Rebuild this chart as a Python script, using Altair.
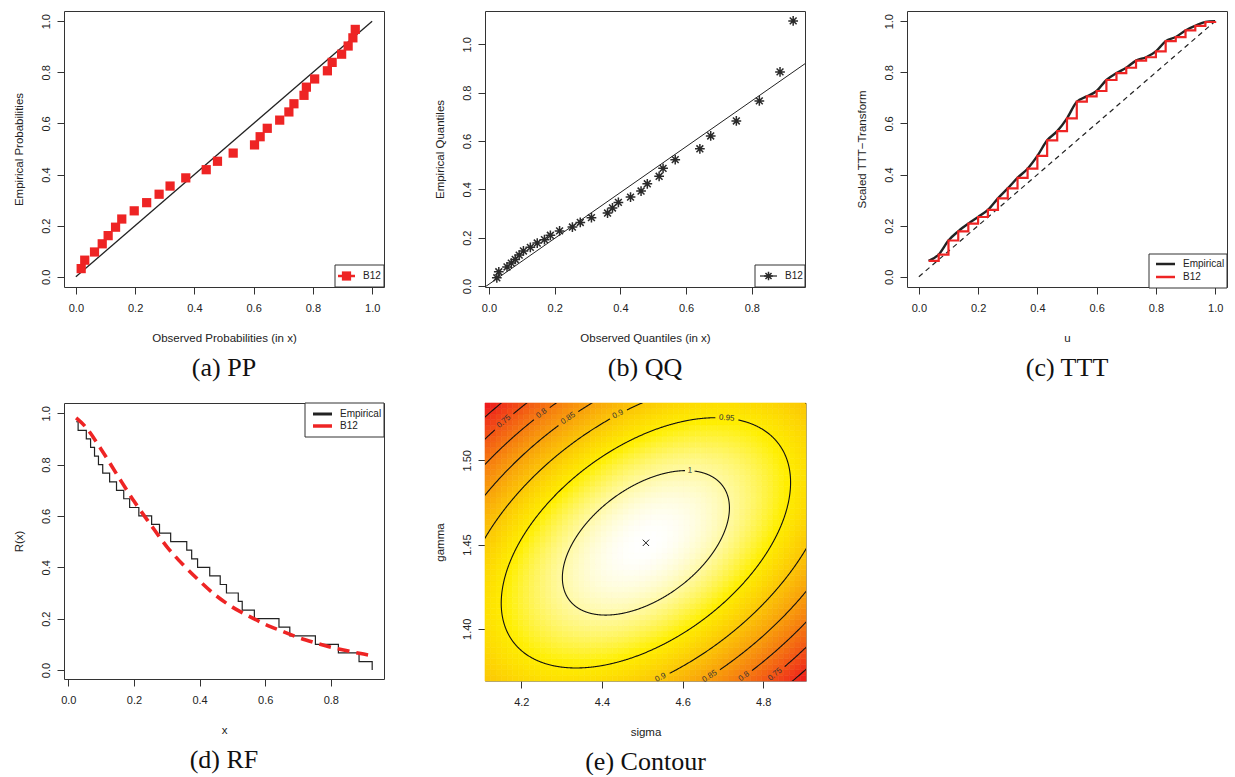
import math

import altair as alt
import numpy as np
import pandas as pd

INK = "#222222"
FRAME = "#333333"
RED = "#ee2424"
SANS = "Liberation Sans"
SERIF = "Liberation Serif"

# ---------------- (a) PP plot ----------------
pp_observed = [0.018, 0.030, 0.063, 0.089, 0.109, 0.134, 0.155, 0.197, 0.239, 0.281,
               0.318, 0.371, 0.440, 0.478, 0.531, 0.603, 0.622, 0.646, 0.688, 0.719,
               0.736, 0.770, 0.778, 0.806, 0.849, 0.865, 0.897, 0.919, 0.935, 0.943]
pp_empirical = [0.032, 0.065, 0.097, 0.129, 0.161, 0.194, 0.226, 0.258, 0.290, 0.323,
                0.355, 0.387, 0.419, 0.452, 0.484, 0.516, 0.548, 0.581, 0.613, 0.645,
                0.677, 0.710, 0.742, 0.774, 0.806, 0.839, 0.871, 0.903, 0.935, 0.968]
pp_ref = [0.0, 1.0]

# ---------------- (b) QQ plot ----------------
qq_observed = [0.024, 0.030, 0.055, 0.068, 0.080, 0.092, 0.105, 0.126, 0.147, 0.169,
               0.187, 0.215, 0.254, 0.278, 0.312, 0.361, 0.376, 0.394, 0.431, 0.463,
               0.482, 0.518, 0.530, 0.567, 0.642, 0.675, 0.753, 0.823, 0.886, 0.926]
qq_empirical = [0.034, 0.059, 0.079, 0.095, 0.110, 0.128, 0.145, 0.160, 0.178, 0.192,
                0.210, 0.228, 0.244, 0.263, 0.283, 0.302, 0.323, 0.346, 0.368, 0.393,
                0.423, 0.454, 0.487, 0.523, 0.568, 0.621, 0.683, 0.766, 0.886, 1.097]
qq_line_x = [-0.05, 1.0]
qq_line_y = [-0.040, 0.956]

# ---------------- (c) scaled TTT transform ----------------
ttt_u = [0.033, 0.067, 0.100, 0.133, 0.167, 0.200, 0.233, 0.267, 0.300, 0.333,
         0.367, 0.400, 0.433, 0.467, 0.500, 0.533, 0.567, 0.600, 0.633, 0.667,
         0.700, 0.733, 0.767, 0.800, 0.833, 0.867, 0.900, 0.933, 0.967, 1.000]
ttt_value = [0.062, 0.087, 0.142, 0.178, 0.208, 0.234, 0.262, 0.307, 0.346, 0.387,
             0.423, 0.473, 0.534, 0.570, 0.620, 0.685, 0.706, 0.727, 0.770, 0.797,
             0.818, 0.846, 0.859, 0.882, 0.922, 0.938, 0.964, 0.982, 0.997, 1.000]
ttt_diag = [0.0, 1.0]

# ---------------- (d) reliability function ----------------
rf_x = qq_observed
rf_empirical = [0.967, 0.933, 0.900, 0.867, 0.833, 0.800, 0.767, 0.733, 0.700, 0.667,
                0.633, 0.600, 0.567, 0.533, 0.500, 0.467, 0.433, 0.400, 0.367, 0.333,
                0.300, 0.267, 0.233, 0.200, 0.167, 0.133, 0.100, 0.067, 0.033, 0.000]
rf_fit_x = [0.024, 0.05, 0.10, 0.15, 0.20, 0.25, 0.30, 0.35, 0.40, 0.45,
            0.50, 0.55, 0.60, 0.65, 0.70, 0.75, 0.80, 0.85, 0.90, 0.926]
rf_fit_y = [0.982, 0.951, 0.860, 0.758, 0.658, 0.568, 0.481, 0.410, 0.347, 0.290,
            0.245, 0.210, 0.178, 0.152, 0.127, 0.107, 0.089, 0.075, 0.062, 0.056]

# ---------------- (e) relative likelihood surface ----------------
sigma_hat, gamma_hat = 4.509, 1.451
q_ss, q_sg, q_gg = 30.37, -141.5, 708.7     # quadratic form of the log-likelihood
peak, drop = 1.025, 0.025
contour_levels = [0.70, 0.75, 0.80, 0.85, 0.90, 0.95, 1.00]
label_spots = [(1.00, 4.618, 1.4945), (0.95, 4.711, 1.529),
               (0.90, 4.437, 1.528), (0.85, 4.313, 1.5257), (0.80, 4.251, 1.528), (0.75, 4.145, 1.5257),
               (0.90, 4.5425, 1.3725), (0.85, 4.664, 1.373), (0.80, 4.746, 1.374), (0.75, 4.825, 1.3735)]
S0, S1 = 4.11, 4.906
G0, G1 = 1.369, 1.534
n_sigma, n_gamma = 58, 50
heat_yellow_at = 0.955   # surface value drawn in pure yellow

PW, PH = 320, 276       # panel plot areas
CW, CH = 321, 278

ticks01 = [0.0, 0.2, 0.4, 0.6, 0.8, 1.0]
ticks08 = [0.0, 0.2, 0.4, 0.6, 0.8]


def lin(dom):
    return alt.Scale(domain=dom, nice=False, zero=False)


def x_axis(title, values, fmt=".1f"):
    return alt.Axis(title=title, values=values, format=fmt, grid=False, domain=False,
                    tickSize=7, tickColor=FRAME, tickWidth=1, labelFlush=False, labelOverlap=False,
                    labelFont=SANS, labelFontSize=11, labelColor=INK, labelPadding=8,
                    titleFont=SANS, titleFontSize=11.5, titleFontWeight="normal",
                    titleColor=INK, titlePadding=19)


def y_axis(title, values, fmt=".1f"):
    return alt.Axis(title=title, values=values, format=fmt, grid=False, domain=False,
                    tickSize=7, tickColor=FRAME, tickWidth=1, labelFlush=False, labelOverlap=False,
                    labelAngle=270, labelAlign="center", labelBaseline="alphabetic",
                    labelFont=SANS, labelFontSize=11, labelColor=INK, labelPadding=8,
                    titleFont=SANS, titleFontSize=11.5, titleFontWeight="normal",
                    titleColor=INK, titlePadding=16)


def caption(text):
    return alt.TitleParams(text=text, orient="bottom", anchor="middle", font=SERIF,
                           fontSize=26, fontWeight="normal", color="#111111", offset=11)


one = pd.DataFrame({"k": [0]})


def box(x0, y0, x1, y1):
    return alt.Chart(one).mark_rect(fill="white", stroke=FRAME, strokeWidth=1).encode(
        x=alt.value(x0), x2=alt.value(x1), y=alt.value(y0), y2=alt.value(y1))


def key_line(x0, x1, y, color, width):
    return alt.Chart(one).mark_rule(color=color, strokeWidth=width).encode(
        x=alt.value(x0), x2=alt.value(x1), y=alt.value(y))


def key_text(x, y, text):
    return alt.Chart(one).mark_text(text=text, align="left", baseline="middle", font=SANS,
                                    fontSize=10, color=INK).encode(x=alt.value(x), y=alt.value(y))


ASTERISK = "M-1,0L1,0M0,-1L0,1M-0.7,-0.7L0.7,0.7M-0.7,0.7L0.7,-0.7"
CROSS = "M-1,-1L1,1M-1,1L1,-1"

# ---- (a) PP ----
pp_df = pd.DataFrame({"obs": pp_observed, "emp": pp_empirical})
pp_ref_df = pd.DataFrame({"obs": pp_ref, "emp": pp_ref})
pp = alt.layer(
    alt.Chart(pp_ref_df).mark_line(color=INK, strokeWidth=1.3).encode(
        x=alt.X("obs:Q", scale=lin([-0.04, 1.04]), axis=x_axis("Observed Probabilities (in x)", ticks01)),
        y=alt.Y("emp:Q", scale=lin([-0.04, 1.04]), axis=y_axis("Empirical Probabilities", ticks01))),
    alt.Chart(pp_df).mark_square(size=85, color=RED, opacity=1).encode(x="obs:Q", y="emp:Q"),
    box(271, 254, 320, 276),
    key_line(274, 291, 265, RED, 2.5),
    alt.Chart(one).mark_square(size=85, color=RED, opacity=1).encode(x=alt.value(282.5), y=alt.value(265)),
    key_text(299, 265, "B12"),
).properties(width=PW, height=PH, title=caption("(a) PP"))

# ---- (b) QQ ----
qq_df = pd.DataFrame({"obs": qq_observed, "emp": qq_empirical})
qq_line_df = pd.DataFrame({"obs": qq_line_x, "emp": qq_line_y})
qq = alt.layer(
    alt.Chart(qq_line_df).mark_line(color=INK, strokeWidth=1, clip=True).encode(
        x=alt.X("obs:Q", scale=lin([-0.012, 0.962]), axis=x_axis("Observed Quantiles (in x)", ticks08)),
        y=alt.Y("emp:Q", scale=lin([-0.004, 1.138]), axis=y_axis("Empirical Quantiles", ticks01))),
    alt.Chart(qq_df).mark_point(shape=ASTERISK, size=95, filled=False, stroke="#2a2a2a",
                                strokeWidth=1.5, opacity=1).encode(x="obs:Q", y="emp:Q"),
    box(270, 254, 320, 276),
    key_line(275, 292, 265, INK, 1.2),
    alt.Chart(one).mark_point(shape=ASTERISK, size=75, filled=False, stroke="#2a2a2a",
                              strokeWidth=1.5, opacity=1).encode(x=alt.value(283.5), y=alt.value(265)),
    key_text(300, 265, "B12"),
).properties(width=PW, height=PH, title=caption("(b) QQ"))

# ---- (c) TTT ----
ttt_df = pd.DataFrame({"u": ttt_u, "t": ttt_value})
diag_df = pd.DataFrame({"u": ttt_diag, "t": ttt_diag})
ttt = alt.layer(
    alt.Chart(diag_df).mark_line(color=INK, strokeWidth=1.2, strokeDash=[5, 4]).encode(
        x=alt.X("u:Q", scale=lin([-0.04, 1.04]), axis=x_axis("u", ticks01)),
        y=alt.Y("t:Q", scale=lin([-0.04, 1.04]), axis=y_axis("Scaled TTT−Transform", ticks01))),
    alt.Chart(ttt_df).mark_line(color=INK, strokeWidth=2.4, interpolate="monotone").encode(x="u:Q", y="t:Q"),
    alt.Chart(ttt_df).mark_line(color=RED, strokeWidth=2.2, interpolate="step-after").encode(x="u:Q", y="t:Q"),
    box(242, 243, 320, 277),
    key_line(249, 268, 253, INK, 2.5),
    key_line(249, 268, 266, RED, 2.5),
    key_text(276, 253, "Empirical"),
    key_text(276, 266, "B12"),
).properties(width=PW, height=PH, title=caption("(c) TTT"))

# ---- (d) RF ----
rf_df = pd.DataFrame({"x": rf_x, "r": rf_empirical})
rf_fit_df = pd.DataFrame({"x": rf_fit_x, "r": rf_fit_y})
rf = alt.layer(
    alt.Chart(rf_df).mark_line(color=INK, strokeWidth=1.2, interpolate="step-after").encode(
        x=alt.X("x:Q", scale=lin([-0.013, 0.962]), axis=x_axis("x", ticks08)),
        y=alt.Y("r:Q", scale=lin([-0.035, 1.04]), axis=y_axis("R(x)", ticks01))),
    alt.Chart(rf_fit_df).mark_line(color=RED, strokeWidth=3.6, strokeDash=[12, 7],
                                   interpolate="monotone").encode(x="x:Q", y="r:Q"),
    box(241, 0, 320, 34),
    key_line(249, 268, 11, INK, 3),
    key_line(249, 268, 23, RED, 3.5),
    key_text(276, 11, "Empirical"),
    key_text(276, 23, "B12"),
).properties(width=PW, height=PH, title=caption("(d) RF"))


# ---- (e) contour of the relative likelihood ----
def surface(s, g):
    ds = s - sigma_hat
    dg = g - gamma_hat
    return peak - drop * (q_ss * ds ** 2 + q_sg * ds * dg + q_gg * dg ** 2)


s_edges = np.linspace(S0, S1, n_sigma + 1)
g_edges = np.linspace(G0, G1, n_gamma + 1)
cells = []
for i in range(n_sigma):
    for j in range(n_gamma):
        sc = 0.5 * (s_edges[i] + s_edges[i + 1])
        gc = 0.5 * (g_edges[j] + g_edges[j + 1])
        cells.append({"s0": s_edges[i], "s1": s_edges[i + 1], "g0": g_edges[j],
                      "g1": g_edges[j + 1], "f": surface(sc, gc)})
heat_df = pd.DataFrame(cells)
fmin, fmax = heat_df["f"].min(), heat_df["f"].max()
heat_scale = alt.Scale(domain=[fmin, heat_yellow_at, fmax],
                       range=["#ee1c1c", "#ffef00", "#ffffff"], interpolate="rgb")


def to_px(s, g):
    return (s - S0) / (S1 - S0) * CW, (G1 - g) / (G1 - G0) * CH


def level_text(v):
    return f"{v:.2f}".rstrip("0").rstrip(".")


M = np.array([[q_ss, q_sg / 2], [q_sg / 2, q_gg]])
lam, vec = np.linalg.eigh(M)
npts = 1440
t = np.linspace(0, 2 * np.pi, npts + 1)[:-1]
unit = vec @ np.vstack([np.cos(t) / np.sqrt(lam[0]), np.sin(t) / np.sqrt(lam[1])])

line_rows, label_rows = [], []
for lev in contour_levels:
    r = math.sqrt((peak - lev) / drop)
    s = sigma_hat + r * unit[0]
    g = gamma_hat + r * unit[1]
    px, py = to_px(s, g)
    keep = np.ones(npts, bool)
    for lv, ls, lg in label_spots:
        if abs(lv - lev) > 1e-9:
            continue
        lx, ly = to_px(ls, lg)
        i = int(np.argmin((px - lx) ** 2 + (py - ly) ** 2))
        a, b = (i - 4) % npts, (i + 4) % npts
        ang = math.degrees(math.atan2(py[b] - py[a], px[b] - px[a]))
        if ang > 90:
            ang -= 180
        if ang <= -90:
            ang += 180
        txt = level_text(lev)
        label_rows.append({"s": s[i], "g": g[i], "text": txt, "angle": ang % 360})
        gap = 2.2 * len(txt) + 2.5
        keep &= (px - px[i]) ** 2 + (py - py[i]) ** 2 > gap ** 2
    start = int(np.argmin(keep)) if not keep.all() else 0
    seg, prev = 0, False
    for k in np.roll(np.arange(npts), -start):
        if keep[k]:
            if not prev:
                seg += 1
            line_rows.append({"s": s[k], "g": g[k], "seg": f"{lev:.2f}-{seg}", "k": len(line_rows)})
        prev = bool(keep[k])
contour_df = pd.DataFrame(line_rows)
label_df = pd.DataFrame(label_rows)
mle_df = pd.DataFrame({"s": [sigma_hat], "g": [gamma_hat]})

sx = alt.X("s0:Q", scale=lin([S0, S1]), axis=x_axis("sigma", [4.2, 4.4, 4.6, 4.8]))
gy = alt.Y("g0:Q", scale=lin([G0, G1]), axis=y_axis("gamma", [1.40, 1.45, 1.50], ".2f"))
contour = alt.layer(
    alt.Chart(heat_df).mark_rect(strokeWidth=0.6).encode(
        x=sx, x2="s1:Q", y=gy, y2="g1:Q",
        color=alt.Color("f:Q", scale=heat_scale, legend=None),
        stroke=alt.Stroke("f:Q", scale=heat_scale, legend=None)),
    alt.Chart(contour_df).mark_line(color="#111111", strokeWidth=1.1, clip=True).encode(
        x="s:Q", y="g:Q", detail="seg:N", order="k:Q"),
    alt.Chart(label_df).mark_text(font=SANS, fontSize=8, color="#333333").encode(
        x="s:Q", y="g:Q", text="text:N", angle=alt.Angle("angle:Q", scale=None)),
    alt.Chart(mle_df).mark_point(shape=CROSS, size=40, filled=False, stroke=INK,
                                 strokeWidth=1, opacity=1).encode(x="s:Q", y="g:Q"),
).properties(width=CW, height=CH, title=caption("(e) Contour"),
             view=alt.ViewBackground(stroke="#999999", strokeWidth=1))

# three panels per row: RF and the contour land under PP and QQ
chart = alt.concat(pp, qq, ttt, rf, contour, columns=3, bounds="flush",
                   spacing={"row": 116, "column": 101}).properties(
    padding={"left": 12, "top": 10, "right": 4, "bottom": 0},
    background="white",
).configure_view(stroke=FRAME, strokeWidth=1)

chart.save("out.html", embed_options={"renderer": "svg", "actions": False})
